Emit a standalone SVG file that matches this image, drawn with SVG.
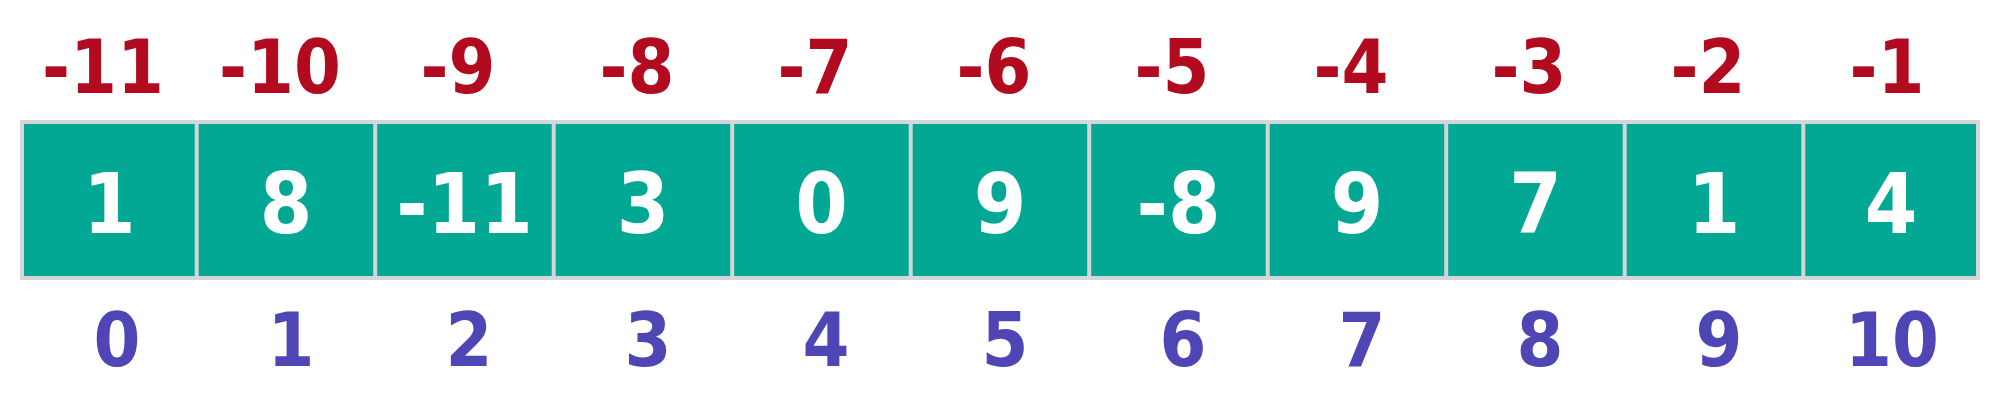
<svg xmlns="http://www.w3.org/2000/svg" width="2000" height="400" viewBox="0 0 2000 400">
<style>
  .cell { fill: #02A894; }
  .val { font-family: "DejaVu Sans Condensed", "DejaVu Sans", sans-serif; font-weight: bold; font-size: 84px; fill: #FFFFFF; text-anchor: middle; }
  .neg { font-family: "DejaVu Sans Condensed", "DejaVu Sans", sans-serif; font-weight: bold; font-size: 75px; fill: #B20A1F; text-anchor: middle; }
  .idx { font-family: "DejaVu Sans Condensed", "DejaVu Sans", sans-serif; font-weight: bold; font-size: 75px; fill: #4F46B5; text-anchor: middle; }
</style>
<rect x="20" y="120" width="1960" height="160" fill="#D6D6D6"/>
<g id="cell0"><rect class="cell" x="24" y="124" width="170.7" height="152"/><text class="neg" x="103" y="93">-11</text><text class="val" x="109.3" y="233">1</text><text class="idx" x="117" y="366">0</text></g>
<g id="cell1"><rect class="cell" x="198.7" y="124" width="174.5" height="152"/><text class="neg" x="280" y="93">-10</text><text class="val" x="286" y="233">8</text><text class="idx" x="291" y="366">1</text></g>
<g id="cell2"><rect class="cell" x="377.2" y="124" width="174.5" height="152"/><text class="neg" x="458" y="93">-9</text><text class="val" x="464.5" y="233">-11</text><text class="idx" x="469" y="366">2</text></g>
<g id="cell3"><rect class="cell" x="555.7" y="124" width="174.5" height="152"/><text class="neg" x="637" y="93">-8</text><text class="val" x="643" y="233">3</text><text class="idx" x="648" y="366">3</text></g>
<g id="cell4"><rect class="cell" x="734.2" y="124" width="174.5" height="152"/><text class="neg" x="815" y="93">-7</text><text class="val" x="821.5" y="233">0</text><text class="idx" x="826" y="366">4</text></g>
<g id="cell5"><rect class="cell" x="912.7" y="124" width="174.5" height="152"/><text class="neg" x="994" y="93">-6</text><text class="val" x="1000" y="233">9</text><text class="idx" x="1005" y="366">5</text></g>
<g id="cell6"><rect class="cell" x="1091.2" y="124" width="174.5" height="152"/><text class="neg" x="1172" y="93">-5</text><text class="val" x="1178.5" y="233">-8</text><text class="idx" x="1183" y="366">6</text></g>
<g id="cell7"><rect class="cell" x="1269.7" y="124" width="174.5" height="152"/><text class="neg" x="1351" y="93">-4</text><text class="val" x="1357" y="233">9</text><text class="idx" x="1362" y="366">7</text></g>
<g id="cell8"><rect class="cell" x="1448.2" y="124" width="174.5" height="152"/><text class="neg" x="1529" y="93">-3</text><text class="val" x="1535.5" y="233">7</text><text class="idx" x="1540" y="366">8</text></g>
<g id="cell9"><rect class="cell" x="1626.7" y="124" width="174.6" height="152"/><text class="neg" x="1708" y="93">-2</text><text class="val" x="1714" y="233">1</text><text class="idx" x="1719" y="366">9</text></g>
<g id="cell10"><rect class="cell" x="1805.3" y="124" width="170.7" height="152"/><text class="neg" x="1887" y="93">-1</text><text class="val" x="1891" y="233">4</text><text class="idx" x="1892" y="366">10</text></g>
<g id="connectors"></g>
</svg>
